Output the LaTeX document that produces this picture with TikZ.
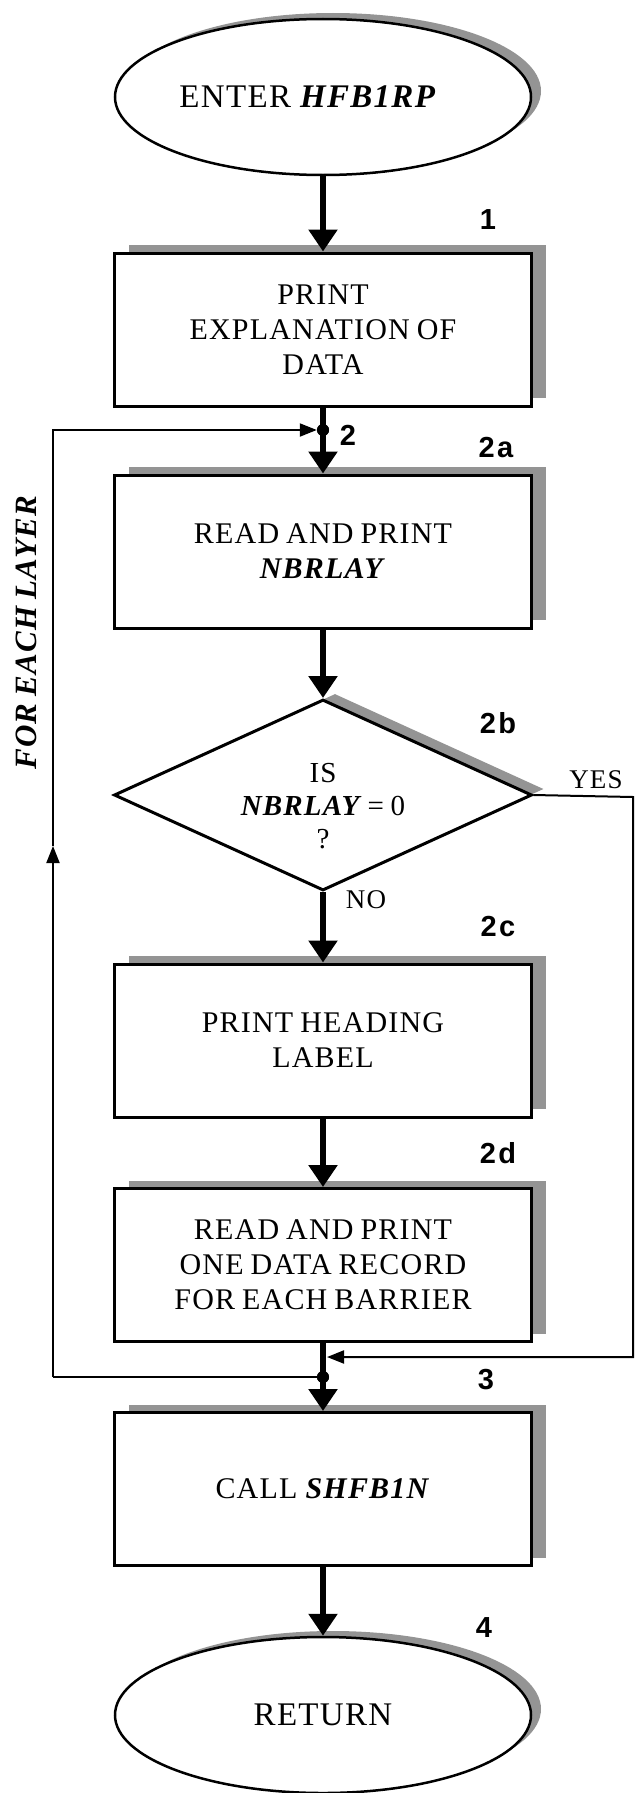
\documentclass[tikz,border=0pt]{standalone}
\usepackage{fontspec}
\setmainfont{Liberation Serif}[LetterSpace=4,WordSpace=0.8]
\newfontfamily\labfont{Liberation Sans}[LetterSpace=8]
\usetikzlibrary{shapes.geometric,shadows,arrows.meta}
\begin{document}
\begin{tikzpicture}[x=1pt,y=-1pt,
  shad/.style={drop shadow={shadow xshift=14pt,shadow yshift=8pt,fill=black!42,opacity=1}},
  procbox/.style={draw,line width=3pt,fill=white,rectangle,minimum width=417pt,minimum height=153pt,inner sep=0pt,align=center,font=\fontsize{30}{35}\selectfont,shad},
  term/.style={draw,line width=2.5pt,fill=white,ellipse,minimum width=416pt,minimum height=156pt,inner sep=0pt,align=center,font=\fontsize{33}{38}\selectfont,drop shadow={shadow xshift=10pt,shadow yshift=6pt,fill=black!42,opacity=1}},
  decision/.style={draw,line width=3pt,fill=white,diamond,shape aspect=2.19,minimum width=418pt,minimum height=191pt,inner sep=0pt,drop shadow={shadow xshift=12pt,shadow yshift=6pt,fill=black!42,opacity=1}},
  dectext/.style={inner sep=0pt,align=center,font=\fontsize{29}{33}\selectfont},
  flow/.style={line width=6pt,-{Triangle[length=22pt,width=28pt]}},
  back/.style={line width=2pt},
  backarrow/.style={line width=2pt,-{Triangle[length=17pt,width=13pt]}},
  junction/.style={circle,fill=black,inner sep=0pt,minimum size=12pt},
  steplabel/.style={font=\labfont\bfseries\fontsize{29}{30}\selectfont,inner sep=0pt},
  branch/.style={font=\fontsize{27}{28}\selectfont,inner sep=0pt},
]
\useasboundingbox (0,0) rectangle (636,1793);

% nodes
\node[term] (start) at (323,97) {ENTER \textbf{\textit{HFB1RP}}\hspace*{30pt}};
\node[procbox] (box1) at (323,329.5) {PRINT\\EXPLANATION OF\\DATA};
\node[procbox] (box2a) at (323,551.5) {READ AND PRINT\\\textbf{\textit{NBRLAY}}};
\node[decision] (dec) at (323,795) {};
\node[dectext] (dectext) at (323,806) {IS\\\textbf{\textit{NBRLAY}}\,= 0\\?};
\node[procbox] (box2c) at (323,1040.5) {PRINT HEADING\\LABEL};
\node[procbox] (box2d) at (323,1265) {READ AND PRINT\\ONE DATA RECORD\\FOR EACH BARRIER};
\node[procbox] (box3) at (323,1489) {CALL \textbf{\textit{SHFB1N}}};
\node[term] (stop) at (323,1715) {RETURN};

% junctions and route points
\node[junction] (j1) at (323,430) {};
\node[junction] (j2) at (323,1377) {};
\coordinate (lb) at (53,1377);
\coordinate (lm) at (53,846);
\coordinate (lt) at (53,430);
\coordinate (yr) at (633,797);
\coordinate (yb) at (633,1357);
\coordinate (m3) at (327,1357);

% main flow
\draw[flow] (start.south) -- (box1.north);
\draw[flow] (box1.south) -- (box2a.north);
\draw[flow] (box2a.south) -- (dec.north);
\draw[flow] (dec.south) -- (box2c.north);
\draw[flow] (box2c.south) -- (box2d.north);
\draw[flow] (box2d.south) -- (box3.north);
\draw[flow] (box3.south) -- (stop.north);

% loop back
\draw[back] (j2.center) -- (lb);
\draw[backarrow] (lb) -- (lm);
\draw[backarrow] (lm) -- (lt) -- (j1.west);

% yes branch
\draw[backarrow] (dec.east) -- (yr) -- (yb) -- (m3);

\node[junction] at (j1) {};
\node[junction] at (j2) {};

% labels
\node[steplabel] (l1) at (488,220) {1};
\node[steplabel] (l2) at (348,435) {2};
\node[steplabel] (l2a) at (496,448) {2a};
\node[steplabel] (l2b) at (498,723) {2b};
\node[steplabel] (l2c) at (498,927) {2c};
\node[steplabel] (l2d) at (498,1153) {2d};
\node[steplabel] (l3) at (486,1380) {3};
\node[steplabel] (l4) at (484,1628) {4};
\node[branch] (yes) at (596,780) {YES};
\node[branch] (no) at (366,900) {NO};
\node[rotate=90,inner sep=0pt,font=\fontsize{31}{32}\selectfont\bfseries\itshape] (loopnote) at (26,633) {FOR EACH LAYER};
\end{tikzpicture}
\end{document}
